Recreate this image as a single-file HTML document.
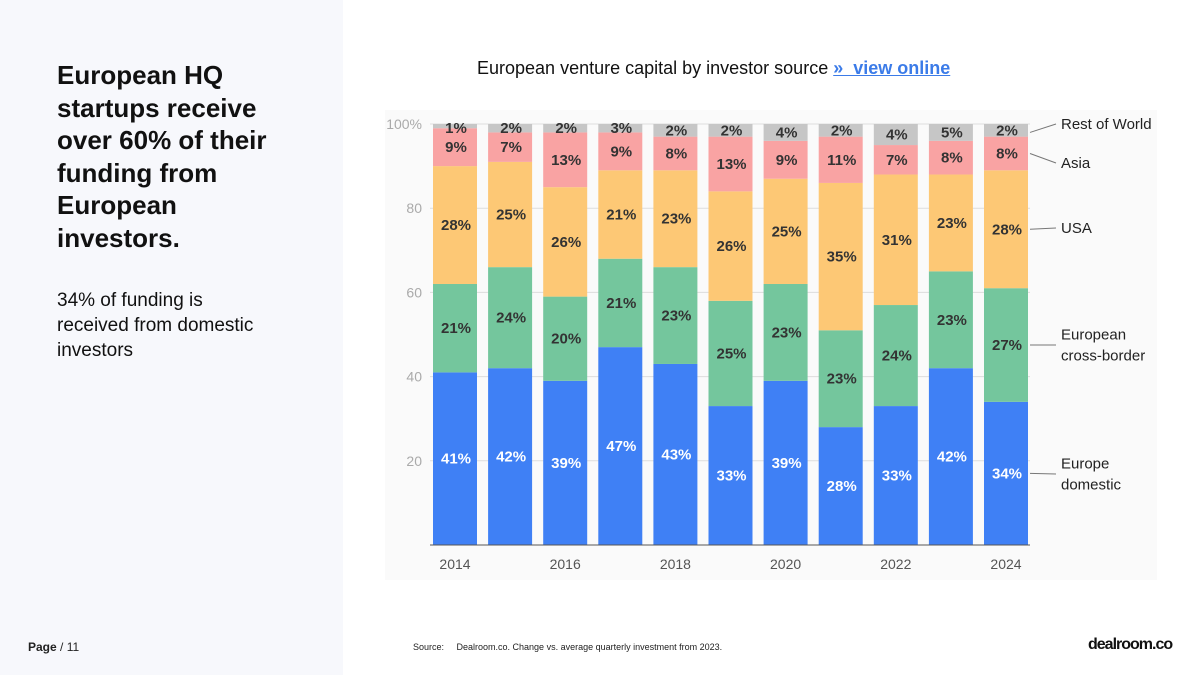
<!DOCTYPE html>
<html><head><meta charset="utf-8"><style>
body{margin:0;width:1200px;height:675px;background:#fff;font-family:"Liberation Sans",sans-serif;position:relative;overflow:hidden}
#left{position:absolute;left:0;top:0;width:343px;height:675px;background:#f7f8fc}
h1{position:absolute;left:57px;top:59px;margin:0;font-size:26px;line-height:32.5px;font-weight:bold;color:#111;width:290px}
#sub{position:absolute;left:57px;top:288px;font-size:19px;line-height:25px;color:#111;width:280px}
#page{position:absolute;left:28px;top:640px;font-size:12px;color:#222}
#title{position:absolute;left:477px;top:58px;font-size:18px;color:#111}
#title a{color:#3b7be8;font-weight:bold;text-decoration:underline}
#src{position:absolute;left:413px;top:642px;font-size:9px;color:#222}
#logo{position:absolute;left:1088px;top:636px;font-size:16px;font-weight:bold;color:#111;letter-spacing:-1px}
svg{position:absolute;left:0;top:0}
</style></head><body>
<div id="left"></div>
<h1>European HQ<br>startups receive<br>over 60% of their<br>funding from<br>European<br>investors.</h1>
<div id="sub">34% of funding is<br>received from domestic<br>investors</div>
<div id="page"><b>Page</b> / 11</div>
<div id="title">European venture capital by investor source <a> »&nbsp; view online</a></div>
<div id="src">Source:&nbsp;&nbsp;&nbsp;&nbsp; Dealroom.co. Change vs. average quarterly investment from 2023.</div>
<div id="logo">dealroom.co</div>
<svg id="chart" width="1200" height="675"></svg>
<script>
const years=[2014,2015,2016,2017,2018,2019,2020,2021,2022,2023,2024];
const europeDomestic=[41,42,39,47,43,33,39,28,33,42,34];
const europeCross=[21,24,20,21,23,25,23,23,24,23,27];
const usa=[28,25,26,21,23,26,25,35,31,23,28];
const asia=[9,7,13,9,8,13,9,11,7,8,8];
const rest=[1,2,2,3,2,2,4,2,4,5,2];
const seriesNames=["Europe domestic","European cross-border","USA","Asia","Rest of World"];
const yTicks=[20,40,60,80,100];
const xTickYears=[2014,2016,2018,2020,2022,2024];
const series=[europeDomestic,europeCross,usa,asia,rest];
const colors=["#3f80f5","#74c69d","#fdc875","#f9a3a3","#c6c6c6"];
const NS="http://www.w3.org/2000/svg";
const svg=document.getElementById('chart');
function el(t,a,p){const e=document.createElementNS(NS,t);for(const k in a)e.setAttribute(k,a[k]);(p||svg).appendChild(e);return e;}
const y0=545,y100=124,x0=455,step=55.1,bw=44;
const yS=v=>y0-(y0-y100)*v/100;
const xS=i=>x0+i*step;
const bg=el('rect',{x:385,y:110,width:772,height:470,fill:'#fafafa'});


yTicks.forEach(t=>{
 const g=el('line',{x1:430,x2:1030,y1:yS(t),y2:yS(t),stroke:'#ddd','stroke-width':1});
 
 
 const l=el('text',{x:422,y:yS(t)+5,'text-anchor':'end','font-size':14,fill:'#aaa'});
 l.textContent=t===100?'100%':t;
 
 
});
years.forEach((yr,i)=>{
 let cum=0;
 series.forEach((a,k)=>{
  const top=k===4?Math.max(100,cum+a[i]*0.5):cum+a[i];
  const yt=yS(top),yb=yS(cum);
  const r=el('rect',{x:xS(i)-bw/2,y:yt,width:bw,height:Math.max(0,yb-yt),fill:colors[k]});
  
  
  let ly=(yt+yb)/2+5; if(k===4) ly=Math.max(ly,133);
  const t=el('text',{x:xS(i)+1,y:ly,'text-anchor':'middle','font-size':15,'font-weight':'bold',fill:k===0?'#fff':'#333'});
  t.textContent=a[i]+'%';
  
  
  cum+=a[i];
 });
});
const ax=el('line',{x1:430,x2:1030,y1:y0,y2:y0,stroke:'#555','stroke-width':1});


xTickYears.forEach(yr=>{
 const i=years.indexOf(yr);
 const t=el('text',{x:xS(i),y:569,'text-anchor':'middle','font-size':14,fill:'#555'});
 t.textContent=yr;
 
 
});
const last=years.length-1;
let c=0;
const legY=[];
series.forEach((a,k)=>{legY.push(yS(c+a[last]/2));c+=a[last];});
legY[4]=Math.max(legY[4],128);
const legLines=[["Europe","domestic"],["European","cross-border"],["USA"],["Asia"],["Rest of World"]];
const legTarget=[474,345,228,163,124];
series.forEach((a,k)=>{
 const ty=legTarget[k];
 const ln=el('line',{x1:1030,y1:legY[k],x2:1056,y2:ty,stroke:'#777','stroke-width':1});
 
 
 const t=el('text',{x:1061,y:ty-(legLines[k].length-1)*10.5+5,'font-size':15,fill:'#222'});
 
 
 legLines[k].forEach((s,j)=>{const sp=el('tspan',{x:1061,dy:j?21:0},t);sp.textContent=s;});
});
</script>
</body></html>
